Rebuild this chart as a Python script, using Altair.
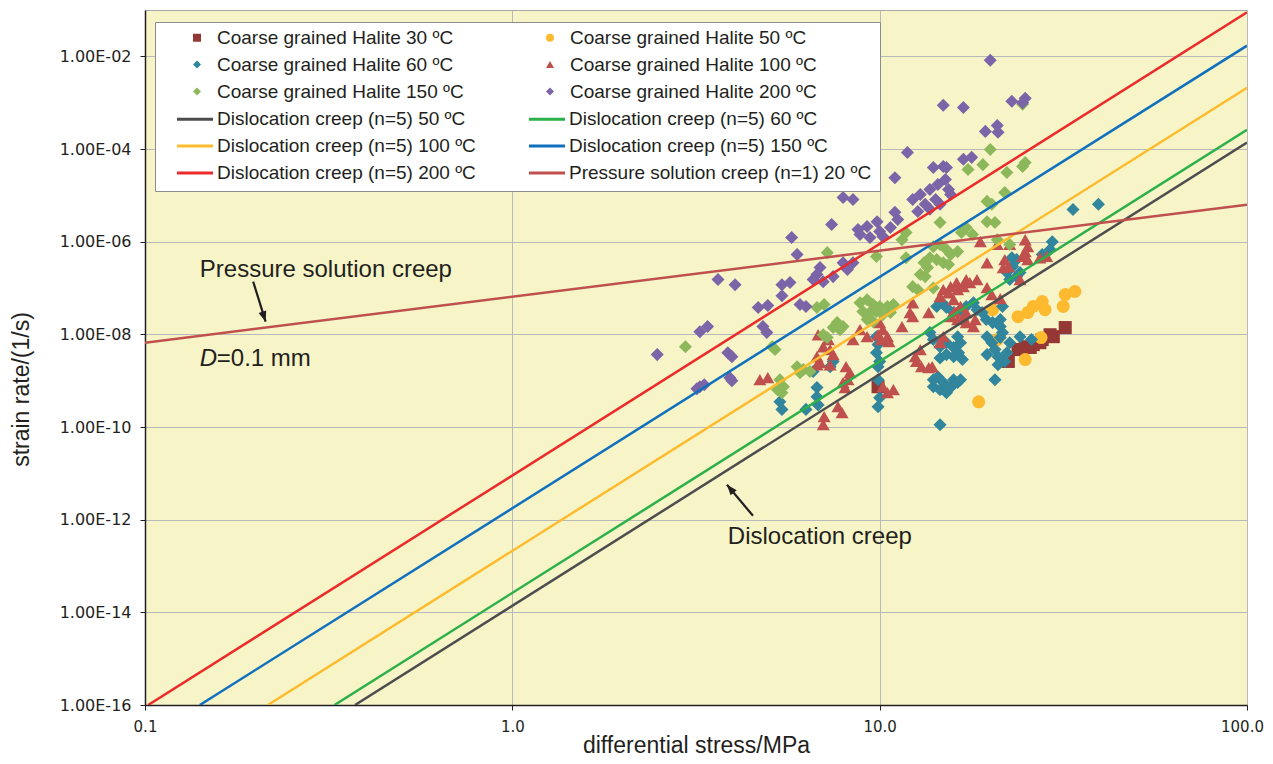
import altair as alt
import pandas as pd

# ---------------- series labels ----------------
L_H30 = "Coarse grained Halite 30 ºC"
L_H50 = "Coarse grained Halite 50 ºC"
L_H60 = "Coarse grained Halite 60 ºC"
L_H100 = "Coarse grained Halite 100 ºC"
L_H150 = "Coarse grained Halite 150 ºC"
L_H200 = "Coarse grained Halite 200 ºC"
L_D50 = "Dislocation creep (n=5) 50 ºC"
L_D60 = "Dislocation creep (n=5) 60 ºC"
L_D100 = "Dislocation creep (n=5) 100 ºC"
L_D150 = "Dislocation creep (n=5) 150 ºC"
L_D200 = "Dislocation creep (n=5) 200 ºC"
L_PS = "Pressure solution creep (n=1) 20 ºC"

point_series = [L_H30, L_H50, L_H60, L_H100, L_H150, L_H200]
point_colors = ["#953735", "#FDBA2F", "#31859C", "#C0504D", "#8DB75B", "#7B64A7"]
point_shapes = ["square", "circle", "diamond", "triangle-up", "diamond", "diamond"]
line_series = [L_D50, L_D60, L_D100, L_D150, L_D200, L_PS]
line_colors = ["#4D4D4F", "#2BB04A", "#FDBB2D", "#1170BE", "#EC2A2A", "#C0504D"]

# ---------------- measured data (stress MPa, strain rate 1/s) ----------------
h30_stress = [32.0, 29.7, 27.7, 26.2, 24.9, 23.8, 25.7, 27.3, 29.1, 9.9, 22.4]
h30_rate = [1.4e-8, 8.9e-9, 7.7e-9, 6.0e-9, 5.4e-9, 4.7e-9, 5.2e-9, 6.6e-9, 9.8e-9, 7.4e-10, 2.6e-9]

h50_stress = [34.0, 32.0, 31.6, 27.7, 28.2, 26.2, 25.3, 23.8, 27.5, 24.9, 18.6, 20.3, 20.9]
h50_rate = [8.4e-8, 7.2e-8, 4.0e-8, 5.1e-8, 3.4e-8, 4.0e-8, 2.95e-8, 2.4e-8, 8.5e-9, 2.85e-9,
            3.5e-10, 3.4e-8, 7.7e-9]

h60_stress = [33.6, 39.4, 29.5, 29.1, 27.7, 22.9, 23.6, 23.0, 22.2, 22.6, 23.6, 24.1,
              14.3, 14.8, 15.2, 15.9, 16.6, 17.2, 18.0, 18.4, 19.0, 19.5, 20.3, 21.3, 21.3, 21.6,
              19.6, 20.2, 20.6, 19.6, 21.0, 21.6, 22.6, 22.2, 21.9, 21.0,
              13.7, 14.0, 14.6, 15.2, 15.9, 16.4, 16.8, 15.9, 15.2, 14.6, 16.6, 16.3,
              14.0, 14.4, 14.9, 14.6, 15.2, 15.6, 15.9, 16.3, 14.0, 20.6, 24.1,
              9.8, 9.9, 9.8, 10.0, 9.9, 9.9, 10.0, 9.9, 6.75, 6.75, 6.8, 5.35, 5.42, 6.3,
              7.47, 7.33, 6.59, 14.6, 16.6, 25.9, 21.3]
h60_rate = [4.95e-6, 6.4e-6, 1.0e-6, 6.75e-7, 5.3e-7, 4.5e-7, 4.1e-7, 2.9e-7, 2.15e-7, 1.52e-7, 1.76e-7, 2.15e-7,
            4.0e-8, 4.8e-8, 3.8e-8, 2.95e-8, 3.4e-8, 4.0e-8, 4.8e-8, 3.4e-8, 2.95e-8, 2.08e-8, 1.79e-8, 2.08e-8, 1.47e-8, 4.0e-8,
            8.9e-9, 6.6e-9, 4.7e-9, 3.65e-9, 3.3e-9, 1.09e-8, 6.6e-9, 4.0e-9, 2.6e-9, 2.2e-9,
            1.09e-8, 7.7e-9, 5.4e-9, 6.6e-9, 5.2e-9, 4.0e-9, 2.85e-9, 3.3e-9, 3.65e-9, 3.1e-9, 6.6e-9, 8.9e-9,
            1.05e-9, 1.22e-9, 9.1e-10, 6.4e-10, 5.5e-10, 7.1e-10, 1.05e-9, 9.1e-10, 7.4e-10, 1.05e-9, 8.9e-9,
            8.9e-9, 6.0e-9, 4.0e-9, 2.6e-9, 2.0e-9, 1.05e-9, 4.3e-10, 2.75e-10, 7.1e-10, 4.5e-10, 3.0e-10, 3.5e-10, 2.4e-10, 2.4e-10,
            2.6e-9, 2.0e-9, 1.57e-9, 1.12e-10, 1.05e-9, 7.7e-9, 8.5e-9]

h100_stress = [18.8, 20.9, 24.9, 25.3, 24.9, 24.5, 25.3, 19.6, 21.9, 22.4, 21.7, 24.1, 27.3, 22.6,
               18.4, 17.2, 16.2, 15.6, 14.9, 14.6, 15.4, 16.3, 16.9, 17.6, 19.6, 20.2,
               15.9, 16.6, 17.2, 16.9, 16.3, 15.6, 16.0, 17.2, 18.0, 18.2, 14.9, 14.6,
               12.3, 12.1, 12.3, 13.6, 11.5, 12.9, 12.5, 12.6, 13.0, 13.6, 13.9,
               10.0, 10.2, 9.9, 10.5, 10.1, 10.6, 8.84, 9.24, 8.46,
               6.8, 7.25, 7.02, 7.33, 7.47, 6.75, 6.88, 7.33, 6.75, 8.1, 8.3, 8.2, 7.95, 8.05,
               4.72, 4.96, 7.7, 7.9, 7.06, 7.02, 10.2, 10.9, 10.5, 21.3, 28.5]
h100_rate = [1.0e-6, 8.7e-7, 1.1e-6, 7.8e-7, 6.1e-7, 4.8e-7, 4.1e-7, 3.5e-7, 4.1e-7, 2.9e-7, 2.76e-7, 1.52e-7, 4.5e-7, 8.7e-7,
             1.52e-7, 1.52e-7, 1.31e-7, 1.07e-7, 9.2e-8, 6.5e-8, 7.9e-8, 9.2e-8, 1.07e-7, 1.31e-7, 1.02e-7, 7.2e-8,
             5.6e-8, 4.0e-8, 2.95e-8, 2.4e-8, 2.08e-8, 2.4e-8, 3.1e-8, 1.79e-8, 1.47e-8, 2.08e-8, 8.9e-9, 6.6e-9,
             4.8e-8, 2.95e-8, 2.4e-8, 2.95e-8, 1.47e-8, 4.7e-9, 3.3e-9, 2.6e-9, 2.0e-9, 1.91e-9, 2.0e-9,
             1.79e-8, 1.26e-8, 9.8e-9, 8.9e-9, 7.7e-9, 7.0e-9, 1.26e-8, 8.9e-9, 7.7e-9,
             9.8e-9, 7.7e-9, 5.4e-9, 4.7e-9, 3.65e-9, 3.3e-9, 2.45e-9, 2.2e-9, 2.2e-9, 2.0e-9, 1.49e-9, 1.05e-9, 9.1e-10, 7.1e-10,
             1.05e-9, 1.16e-9, 2.75e-10, 2.04e-10, 1.67e-10, 1.12e-10, 7.4e-10, 6.4e-10, 5.5e-10, 5.9e-8, 4.8e-7]

h150_stress = [24.5, 20.0, 19.1, 17.4, 22.2, 24.9, 24.5, 19.6, 20.2, 21.9, 14.6, 11.5, 11.8,
               16.7, 17.2, 17.9, 19.6, 20.6, 16.3, 15.6, 14.0, 14.6, 15.2, 13.7, 14.3, 14.9, 15.4,
               13.2, 13.5, 12.9, 13.3, 12.3, 12.7, 14.0, 11.8, 9.8, 7.2, 7.06, 6.75,
               8.84, 9.24, 9.6, 10.0, 10.5, 10.9, 9.0, 9.4, 9.8, 10.2, 10.7, 9.24, 9.6,
               7.66, 7.95, 7.8, 7.47, 7.02, 7.2, 5.1, 5.19, 5.96, 6.2, 6.46, 6.07, 5.35,
               5.47, 5.27, 5.42, 2.96, 20.9, 22.6]
h150_rate = [9.2e-4, 9.8e-5, 4.6e-5, 3.6e-5, 3.1e-5, 5.1e-5, 4.2e-5, 7.4e-6, 6.4e-6, 1.15e-5, 2.6e-6, 1.1e-6, 1.58e-6,
             1.58e-6, 2.03e-6, 1.43e-6, 2.7e-6, 2.6e-6, 6.1e-7, 5.3e-7, 7.8e-7, 8.7e-7, 6.75e-7, 4.5e-7, 4.1e-7, 3.5e-7, 3.2e-7,
             3.5e-7, 2.76e-7, 1.95e-7, 1.76e-7, 1.07e-7, 9.2e-8, 1.0e-7, 4.5e-7, 4.8e-7, 5.8e-7, 4.4e-8, 3.8e-8,
             4.8e-8, 5.6e-8, 4.4e-8, 4.0e-8, 4.0e-8, 4.4e-8, 3.1e-8, 2.95e-8, 3.1e-8, 2.66e-8, 2.95e-8, 2.08e-8, 1.88e-8,
             1.79e-8, 1.47e-8, 1.26e-8, 1.4e-8, 9.8e-9, 8.5e-9, 5.4e-9, 4.7e-9, 2.0e-9, 1.73e-9, 1.57e-9, 1.49e-9, 1.05e-9,
             7.4e-10, 6.4e-10, 5.5e-10, 5.4e-9, 1.1e-6, 8.7e-7]

h200_stress = [20.0, 14.9, 16.9, 22.9, 24.9, 24.5, 19.4, 20.9, 21.0, 11.9, 16.9, 17.8, 14.0, 14.9, 15.2, 11.0,
               7.95, 8.46, 12.3, 12.9, 13.7, 14.4, 15.1, 13.3, 14.2, 15.6, 12.7, 13.7, 14.6, 15.4,
               7.40, 8.73, 9.24, 9.84, 8.84, 9.41, 10.2, 11.2, 11.0, 5.76, 5.96, 6.88, 6.75, 6.59, 7.02,
               7.47, 7.95, 8.46, 8.17, 5.42, 5.70, 5.42, 6.07, 6.30, 4.67, 4.96, 3.63, 4.04, 3.24, 3.40,
               4.81, 4.93, 2.48, 3.86, 3.96, 3.24, 3.18, 3.33, 3.91, 3.96, 10.0, 10.7]
h200_rate = [8.2e-3, 8.8e-4, 7.9e-4, 1.07e-3, 1.24e-3, 1.0e-3, 2.4e-4, 3.2e-4, 2.3e-4, 8.4e-5, 6.0e-5, 6.6e-5, 4.0e-5, 4.2e-5, 4.0e-5, 2.4e-5,
             9.0e-6, 8.1e-6, 8.1e-6, 1.04e-5, 1.34e-5, 1.72e-5, 2.2e-5, 6.4e-6, 8.1e-6, 1.04e-5, 4.5e-6, 5.0e-6, 6.4e-6, 1.34e-5,
             2.35e-6, 1.83e-6, 2.13e-6, 2.7e-6, 1.43e-6, 1.23e-6, 1.3e-6, 3.0e-6, 4.3e-6, 1.23e-6, 5.3e-7, 2.76e-7, 1.95e-7, 1.52e-7, 1.37e-7,
             1.76e-7, 3.5e-7, 3.5e-7, 2.5e-7, 1.18e-7, 1.31e-7, 6.8e-8, 4.4e-8, 4.0e-8, 3.8e-8, 4.2e-8, 1.52e-7, 1.18e-7, 1.14e-8, 1.47e-8,
             1.47e-8, 1.09e-8, 3.65e-9, 4.0e-9, 3.3e-9, 7.4e-10, 6.7e-10, 8.2e-10, 1.16e-9, 1.0e-9, 1.66e-6, 2.03e-6]

# model lines: two end points read at the plot edges
line_stress = {L_D50: [0.373, 100.0], L_D60: [0.328, 100.0], L_D100: [0.216, 100.0],
               L_D150: [0.141, 100.0], L_D200: [0.102, 100.0], L_PS: [0.1, 100.0]}
line_rate = {L_D50: [1e-16, 1.38e-4], L_D60: [1e-16, 2.6e-4], L_D100: [1e-16, 2.1e-3],
             L_D150: [1e-16, 1.7e-2], L_D200: [1e-16, 8.9e-2], L_PS: [6.6e-9, 6.3e-6]}

# annotations (anchor positions in data units)
ann_text = ["Pressure solution creep", "Dislocation creep"]
ann_stress = [0.141, 3.86]
ann_rate = [1.76e-7, 3.0e-13]
d_label_stress = [0.141]
d_label_rate = [2.11e-9]
arrow1_stress = [0.197, 0.213]
arrow1_rate = [1.37e-7, 1.88e-8]
arrow2_stress = [4.52, 3.84]
arrow2_rate = [1.21e-12, 5.66e-12]

y_ticks = [1e-16, 1e-14, 1e-12, 1e-10, 1e-8, 1e-6, 1e-4, 1e-2]
x_ticks = [0.1, 1.0, 10.0, 100.0]

# ---------------- tables ----------------
pts = []
for lab, xs, ys in [(L_H30, h30_stress, h30_rate), (L_H50, h50_stress, h50_rate),
                    (L_H60, h60_stress, h60_rate), (L_H100, h100_stress, h100_rate),
                    (L_H150, h150_stress, h150_rate), (L_H200, h200_stress, h200_rate)]:
    for x, y in zip(xs, ys):
        pts.append({"stress": x, "rate": y, "series": lab})
pts_df = pd.DataFrame(pts)

lines = []
for lab in line_series:
    for x, y in zip(line_stress[lab], line_rate[lab]):
        lines.append({"stress": x, "rate": y, "series": lab})
lines_df = pd.DataFrame(lines)

ann_df = pd.DataFrame({"stress": ann_stress, "rate": ann_rate, "text": ann_text})
d_df = pd.DataFrame({"stress": d_label_stress, "rate": d_label_rate})
arrows_df = pd.DataFrame({
    "stress": arrow1_stress + arrow2_stress,
    "rate": arrow1_rate + arrow2_rate,
    "arrow": ["a1", "a1", "a2", "a2"],
})
head1_df = pd.DataFrame({"stress": [arrow1_stress[1]], "rate": [arrow1_rate[1]]})
head2_df = pd.DataFrame({"stress": [arrow2_stress[1]], "rate": [arrow2_rate[1]]})

INK = "#231F20"
TXT_FONT = "Liberation Sans"
TICK_FONT = "DejaVu Sans"

xscale = alt.Scale(type="log", domain=[0.1, 100], nice=False)
yscale = alt.Scale(type="log", domain=[1e-16, 0.1], nice=False)

x_axis = alt.Axis(values=x_ticks, format=".1f", grid=True, gridColor="#B9B9B9", gridWidth=1,
                  domainColor=INK, domainWidth=1.5, tickColor=INK, tickSize=5,
                  labelFont=TICK_FONT, labelFontSize=15, labelColor=INK, labelPadding=9,
                  labelFlush=False, labelOverlap=False,
                  labelOffset={"condition": {"test": "datum.value >= 100", "value": -5}, "value": 0},
                  title="differential stress/MPa", titleFont=TXT_FONT, titleFontSize=23,
                  titleFontWeight="normal", titleColor=INK, titleBaseline="alphabetic", titleY=47)
y_axis = alt.Axis(values=y_ticks,
                  labelExpr="'1.00E-' + (-round(log(datum.value)/LN10) < 10 ? '0' : '') + format(-round(log(datum.value)/LN10), 'd')",
                  grid=True, gridColor="#B9B9B9", gridWidth=1,
                  domainColor=INK, domainWidth=1.5, tickColor=INK, tickSize=5,
                  labelFont=TICK_FONT, labelFontSize=16, labelColor=INK, labelPadding=9,
                  labelFlush=False, labelOverlap=False,
                  title="strain rate/(1/s)", titleFont=TXT_FONT, titleFontSize=23,
                  titleFontWeight="normal", titleColor=INK, titleBaseline="middle",
                  titleX=-124, titleY=379)

X = alt.X("stress:Q", scale=xscale, axis=x_axis)
Y = alt.Y("rate:Q", scale=yscale, axis=y_axis)

# legend for the measured series (rows 1-3), drawn on top of the framed line legend
legend_pts = alt.Legend(
    title=None, orient="none", legendX=10, legendY=12, columns=2, direction="horizontal",
    padding=6, rowPadding=7, columnPadding=50, symbolSize=64, symbolOffset=26.5, labelOffset=10.5,
    labelFont=TXT_FONT, labelFontSize=19, labelColor=INK, labelLimit=400, zindex=2,
)
# legend for the model lines (rows 4-6); its blank title reserves space for rows 1-3
legend_lines = alt.Legend(
    title=" ", titleFontSize=19, titlePadding=60.5, orient="none", legendX=10, legendY=12,
    columns=2, direction="horizontal", padding=8, rowPadding=7, columnPadding=39,
    clipHeight=19,
    symbolSize=1296, symbolStrokeWidth=3, symbolOffset=12.5, labelOffset=2.5,
    fillColor="white", strokeColor="#8C8C8C", labelFont=TXT_FONT, labelFontSize=19,
    labelColor=INK, labelLimit=400, zindex=1,
)

points = alt.Chart(pts_df).mark_point(filled=True, opacity=1, size=170).encode(
    x=X, y=Y,
    color=alt.Color("series:N", scale=alt.Scale(domain=point_series, range=point_colors),
                    legend=legend_pts),
    shape=alt.Shape("series:N", scale=alt.Scale(domain=point_series, range=point_shapes),
                    legend=legend_pts),
)

model_lines = alt.Chart(lines_df).mark_line(strokeWidth=2.5, clip=True).encode(
    x=X, y=Y,
    stroke=alt.Stroke("series:N", scale=alt.Scale(domain=line_series, range=line_colors),
                      legend=legend_lines),
    detail="series:N",
)

ann = alt.Chart(ann_df).mark_text(align="left", baseline="alphabetic", font=TXT_FONT,
                                  fontSize=24, color=INK).encode(x=X, y=Y, text="text:N")
d_italic = alt.Chart(d_df).mark_text(align="left", baseline="alphabetic", font=TXT_FONT,
                                     fontSize=24, fontStyle="italic", color=INK).encode(
    x=X, y=Y, text=alt.value("D"))
d_rest = alt.Chart(d_df).mark_text(align="left", baseline="alphabetic", font=TXT_FONT,
                                   fontSize=24, color=INK, dx=17).encode(
    x=X, y=Y, text=alt.value("=0.1 mm"))

arrow_lines = alt.Chart(arrows_df).mark_line(color=INK, strokeWidth=2.2).encode(
    x=X, y=Y, detail="arrow:N")
HEAD = "M0,0L-1,2.6L1,2.6Z"
head1 = alt.Chart(head1_df).mark_point(shape=HEAD, filled=True, color=INK, opacity=1,
                                       size=64, angle=162).encode(x=X, y=Y)
head2 = alt.Chart(head2_df).mark_point(shape=HEAD, filled=True, color=INK, opacity=1,
                                       size=64, angle=320).encode(x=X, y=Y)

chart = alt.layer(points, model_lines, ann, d_italic, d_rest, arrow_lines, head1, head2).resolve_scale(
    color="independent", shape="independent", stroke="independent"
).properties(
    width=1102, height=695,
    padding={"left": 137, "top": 2, "right": 18, "bottom": 51},
    autosize=alt.AutoSizeParams(type="none"),
    background="white",
).configure_view(fill="#F7F5C8", stroke="#A6A6A6", strokeWidth=1)

chart.save("out.html", embed_options={"renderer": "svg", "actions": False})
